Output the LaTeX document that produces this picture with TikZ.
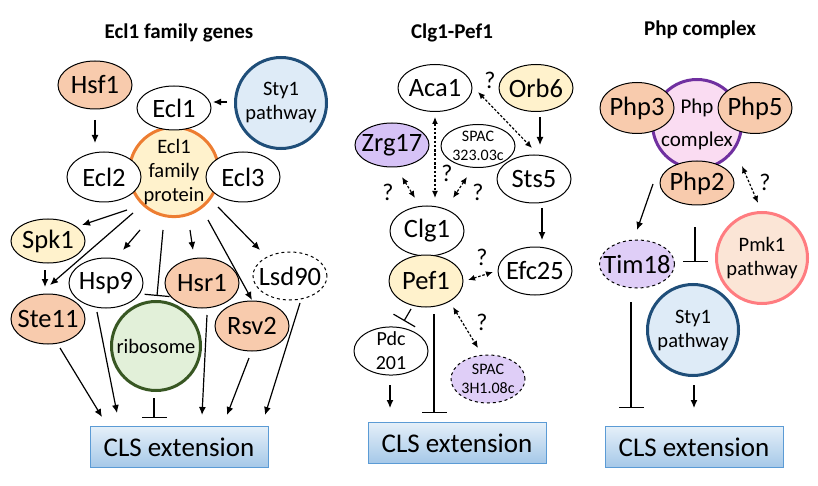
\documentclass[tikz,border=0pt]{standalone}
\usepackage{fontspec}
\setmainfont{Carlito}
\usetikzlibrary{shapes.geometric,arrows.meta,calc}
\definecolor{orfill}{HTML}{F8CBAD}
\definecolor{yefill}{HTML}{FFF2CC}
\definecolor{pufillA}{HTML}{D6C2F6}
\definecolor{pufillB}{HTML}{DFCEF7}
\definecolor{eclorange}{HTML}{ED7D31}
\definecolor{styblue}{HTML}{1F4E79}
\definecolor{styfill}{HTML}{DEEBF7}
\definecolor{ribgreen}{HTML}{385723}
\definecolor{ribfill}{HTML}{E2F0D9}
\definecolor{phpborder}{HTML}{7030A0}
\definecolor{phpfill}{HTML}{FADCF2}
\definecolor{pmkborder}{HTML}{FF7C80}
\definecolor{pmkfill}{HTML}{FBE5D6}
\definecolor{clsborder}{HTML}{5B9BD5}
\tikzset{
  ell/.style={ellipse, draw=black, line width=1pt, fill=white, minimum width=74pt, minimum height=48pt,
    inner xsep=-7pt, inner ysep=-2pt, align=center, font=\fontsize{26.5}{29}\selectfont},
  smalltxt/.style={font=\fontsize{16}{19}\selectfont},
  midtxt/.style={font=\fontsize{20}{24}\selectfont},
  bigcirc/.style={circle, line width=3pt, inner sep=0pt, align=center, font=\fontsize{20.5}{24}\selectfont},
  clsbox/.style={rectangle, draw=clsborder, line width=1pt, top color=styfill!80!white, bottom color=clsborder!55!white,
    minimum width=178pt, minimum height=41pt, font=\fontsize{27}{30}\selectfont},
  ttl/.style={font=\fontsize{21}{24}\selectfont\bfseries},
  qm/.style={font=\fontsize{24}{26}\selectfont},
  arr/.style={line width=1.2pt, -{Latex[length=8pt,width=7pt]}},
  inh/.style={line width=1.2pt, -{Bar[width=25pt,line width=1.2pt]}},
  darr/.style={line width=1.2pt, dash pattern=on 2.5pt off 1.8pt, {Latex[length=7pt,width=6pt]}-{Latex[length=7pt,width=6pt]}},
}
\begin{document}
\begin{tikzpicture}[x=1pt,y=-1pt]
\useasboundingbox (0,0) rectangle (818,486);
% ---------------- Left panel ----------------
\node[ttl] (t1) at (179,33) {Ecl1 family genes};
\node[bigcirc, draw=eclorange, fill=yefill, minimum size=87pt] (eclfam) at (174,172) {Ecl1\\family\\protein};
\node[ell, fill=orfill] (hsf1) at (95,85) {Hsf1};
\node[ell, minimum height=44pt] (ecl1) at (174,108) {Ecl1};
\node[bigcirc, draw=styblue, fill=styfill, minimum size=91pt] (sty1L) at (281,103) {Sty1\\pathway};
\node[ell, minimum height=50pt] (ecl2) at (104,177) {Ecl2};
\node[ell, minimum height=50pt] (ecl3) at (243,177) {Ecl3};
\node[ell, fill=yefill, minimum height=44pt] (spk1) at (48,241) {Spk1};
\node[ell, fill=orfill, minimum height=50pt] (ste11) at (48,319) {Ste11};
\node[ell, minimum height=50pt] (hsp9) at (106,283) {Hsp9};
\node[ell, fill=orfill, minimum height=50pt] (hsr1) at (202,283) {Hsr1};
\node[ell, dashed] (lsd90) at (290,276) {Lsd90};
\node[ell, fill=orfill, minimum height=50pt] (rsv2) at (252,326) {Rsv2};
\node[bigcirc, draw=ribgreen, fill=ribfill, minimum size=89pt] (ribo) at (156,346) {ribosome};
\node[clsbox] (cls1) at (179,447) {CLS extension};

\draw[arr] ([shift={(0,35)}]hsf1.center) -- ([shift={(-9,-34)}]ecl2.center);
\draw[arr] ([shift={(-54,-1)}]sty1L.center) -- ([shift={(39,-6)}]ecl1.center);
\draw[arr] ([shift={(-47,38)}]eclfam.center) -- ([shift={(34,-16)}]spk1.center);
\draw[arr] ([shift={(-41,41)}]eclfam.center) -- ([shift={(2,-34)}]ste11.center);
\draw[arr] ([shift={(-34,58)}]eclfam.center) -- ([shift={(17,-33)}]hsp9.center);
\draw[inh] ([shift={(-11,58)}]eclfam.center) -- ([shift={(1,-50)}]ribo.center);
\draw[arr] ([shift={(16,58)}]eclfam.center) -- ([shift={(-9,-33)}]hsr1.center);
\draw[arr] ([shift={(34,48)}]eclfam.center) -- ([shift={(0,-26)}]rsv2.center);
\draw[arr] ([shift={(44,35)}]eclfam.center) -- ([shift={(-30,-26)}]lsd90.center);
\draw[arr] ([shift={(-3,29)}]spk1.center) -- ([shift={(-3,-32)}]ste11.center);
\draw[arr] ([shift={(12,29)}]ste11.center) -- ([shift={(-77,-30)}]cls1.center);
\draw[arr] ([shift={(-9,29)}]hsp9.center) -- ([shift={(-62,-34)}]cls1.center);
\draw[inh] ([shift={(-2,52)}]ribo.center) -- ([shift={(-25,-29)}]cls1.center);
\draw[arr] ([shift={(5,32)}]hsr1.center) -- ([shift={(23,-32)}]cls1.center);
\draw[arr] ([shift={(-3,32)}]rsv2.center) -- ([shift={(48,-32)}]cls1.center);
\draw[arr] ([shift={(10,27)}]lsd90.center) -- ([shift={(86,-32)}]cls1.center);

% ---------------- Middle panel ----------------
\node[ttl] (t2) at (452,33) {Clg1-Pef1};
\node[ell, minimum height=47pt] (aca1) at (435,88) {Aca1};
\node[ell, fill=yefill, minimum height=47pt] (orb6) at (536,88) {Orb6};
\node[ell, fill=pufillA, minimum height=44pt] (zrg17) at (392,145) {Zrg17};
\node[ell, smalltxt, minimum height=43pt] (spac323) at (478,146) {SPAC\\323.03c};
\node[ell] (sts5) at (534,179) {Sts5};
\node[ell, minimum height=50pt] (clg1) at (427,231) {Clg1};
\node[ell, fill=yefill, minimum height=52pt] (pef1) at (426,281) {Pef1};
\node[ell] (efc25) at (535,271) {Efc25};
\node[ell, midtxt] (pdc) at (391,351) {Pdc\\201};
\node[ell, smalltxt, dashed, fill=pufillB] (spac3h1) at (488,379) {SPAC\\3H1.08c};
\node[clsbox] (cls2) at (457,443) {CLS extension};

\draw[darr] ([shift={(0,29)}]aca1.center) -- ([shift={(8,-33)}]clg1.center);
\draw[darr] ([shift={(43,4)}]aca1.center) -- ([shift={(-2,-31)}]sts5.center);
\draw[arr] ([shift={(4,29)}]orb6.center) -- ([shift={(6,-34)}]sts5.center);
\draw[darr] ([shift={(10,32)}]zrg17.center) -- ([shift={(-12,-33)}]clg1.center);
\draw[darr] ([shift={(-11,31)}]spac323.center) -- ([shift={(26,-33)}]clg1.center);
\draw[arr] ([shift={(8,29)}]sts5.center) -- ([shift={(7,-31)}]efc25.center);
\draw[darr] ([shift={(42,-1)}]pef1.center) -- ([shift={(-42,1)}]efc25.center);
\draw[inh] ([shift={(-15,28)}]pef1.center) -- ([shift={(13,-30)}]pdc.center);
\draw[inh] ([shift={(8,33)}]pef1.center) -- ([shift={(-23,-30)}]cls2.center);
\draw[darr] ([shift={(27,26)}]pef1.center) -- ([shift={(-10,-31)}]spac3h1.center);
\draw[arr] ([shift={(-1,34)}]pdc.center) -- ([shift={(-67,-35)}]cls2.center);

\node[qm] (q1) at (490,80) {?};
\node[qm] (q2) at (447,173) {?};
\node[qm] (q3) at (388,192) {?};
\node[qm] (q4) at (478,192) {?};
\node[qm] (q5) at (482,257) {?};
\node[qm] (q6) at (482,322) {?};

% ---------------- Right panel ----------------
\node[ttl] (t3) at (700,30) {Php complex};
\node[bigcirc, draw=phpborder, fill=phpfill, minimum size=89pt, font=\fontsize{21}{25}\selectfont] (phpc) at (697,124) {Php\\[8pt]complex};
\node[ell, fill=orfill, minimum height=51pt] (php3) at (637,108) {Php3};
\node[ell, fill=orfill, minimum height=51pt] (php5) at (755,108) {Php5};
\node[ell, fill=orfill, minimum height=44pt] (php2) at (697,183) {Php2};
\node[ell, dashed, fill=pufillB] (tim18) at (637,264) {Tim18};
\node[bigcirc, draw=pmkborder, fill=pmkfill, minimum size=91pt] (pmk1) at (762,258) {Pmk1\\pathway};
\node[bigcirc, draw=styblue, fill=styfill, minimum size=91pt] (sty1R) at (693,330) {Sty1\\pathway};
\node[clsbox] (cls3) at (694,447) {CLS extension};

\draw[arr] ([shift={(-44,1)}]php2.center) -- ([shift={(0,-34)}]tim18.center);
\draw[darr] ([shift={(45,42)}]phpc.center) -- ([shift={(-4,-55)}]pmk1.center);
\draw[inh] ([shift={(-2,44)}]php2.center) -- ([shift={(2,-68)}]sty1R.center);
\draw[inh] ([shift={(-6,38)}]tim18.center) -- ([shift={(-63,-39)}]cls3.center);
\draw[arr] ([shift={(1,55)}]sty1R.center) -- ([shift={(0,-39)}]cls3.center);
\node[qm] (q7) at (765,182) {?};
\end{tikzpicture}
\end{document}
